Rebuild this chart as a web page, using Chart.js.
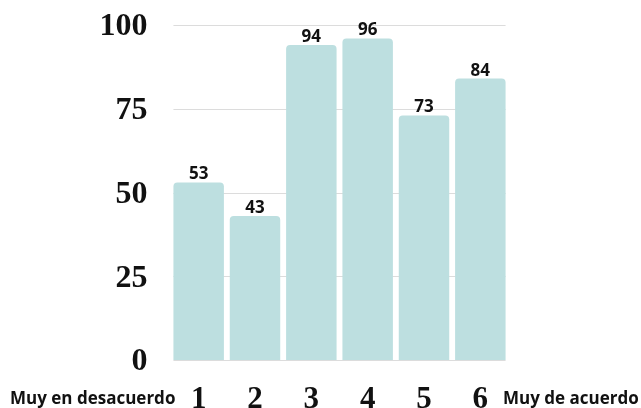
<!DOCTYPE html>
<html>
<head>
<meta charset="utf-8">
<script src="https://cdn.jsdelivr.net/npm/chart.js@4/dist/chart.umd.min.js"></script>
<style>
    html,body{
        margin:0;
        padding:0;
        background:#ffffff;
    }
    #box{
        width:641px;
        height:408px;
    }
</style>
</head>
<body>
<div id="box">
    <canvas id="scaleChart"></canvas>
</div>
<script>

const categories = ['1','2','3','4','5','6'];
const answers = [53,43,94,96,73,84];
const yTicks = [0,25,50,75,100];
const leftLabel = 'Muy en desacuerdo';
const rightLabel = 'Muy de acuerdo';

const barColor = '#bddfe0';

// horizontal grid only as wide as the row of bars
const gridPlugin = {
    id:'shortGrid',
    beforeDatasetsDraw(chart){

        const ctx =
        chart.ctx;

        const bars =
        chart.getDatasetMeta(0).data;

        const first = bars[0];
        const last = bars[bars.length-1];

        const x0 = first.x - first.width/2;
        const x1 = last.x + last.width/2;

        ctx.save();
        ctx.strokeStyle = '#dcdcdc';
        ctx.lineWidth = 1;

        yTicks.forEach(v=>{
            const y =
            Math.round(chart.scales.y.getPixelForValue(v)) + 0.5;
            ctx.beginPath();
            ctx.moveTo(x0,y);
            ctx.lineTo(x1,y);
            ctx.stroke();
        });

        ctx.restore();
    }
};

// numbers above each bar + the two end labels under the axis
const labelsPlugin = {
    id:'labels',
    afterDatasetsDraw(chart){

        const ctx =
        chart.ctx;

        const meta =
        chart.getDatasetMeta(0);

        ctx.save();
        ctx.fillStyle = '#111111';
        ctx.font = 'bold 17px "Open Sans"';
        ctx.textAlign = 'center';
        ctx.textBaseline = 'alphabetic';

        meta.data.forEach((bar,i)=>{
            ctx.fillText(
                String(answers[i]),
                bar.x,
                bar.y - 3
            );
        });

        ctx.textAlign = 'left';
        ctx.fillText(leftLabel,10,404);
        ctx.fillText(rightLabel,503,404);

        ctx.restore();
    }
};

const scaleChart =
document.getElementById('scaleChart');

new Chart(scaleChart, {
    type:'bar',
    data:{
        labels:categories,
        datasets:[{
            data:answers,
            backgroundColor:barColor,
            borderRadius:{topLeft:4,topRight:4},
            borderSkipped:'bottom',
            barPercentage:0.896,
            categoryPercentage:1
        }]
    },
    options:{
        responsive:true,
        maintainAspectRatio:false,
        animation:false,
        layout:{
            padding:{left:0,right:132.5,top:25,bottom:0}
        },
        plugins:{
            legend:{display:false},
            tooltip:{enabled:false}
        },
        scales:{
            x:{
                grid:{display:false},
                border:{display:false},
                ticks:{
                    color:'#111111',
                    padding:13,
                    font:{family:'"Liberation Serif"',size:31,weight:'bold'}
                },
                afterFit(scale){
                    scale.height = 48;
                    scale.paddingLeft = 0;
                    scale.paddingRight = 0;
                }
            },
            y:{
                min:0,
                max:100,
                afterBuildTicks(scale){
                    scale.ticks = yTicks.map(v=>({value:v}));
                },
                grid:{display:false},
                border:{display:false},
                ticks:{
                    color:'#111111',
                    padding:15,
                    labelOffset:2,
                    font:{family:'"Liberation Serif"',size:32,weight:'bold'}
                },
                afterFit(scale){
                    scale.width = 170.5;
                    scale.paddingTop = 0;
                    scale.paddingBottom = 0;
                }
            }
        }
    },
    plugins:[gridPlugin,labelsPlugin]
});
</script>
</body>
</html>
